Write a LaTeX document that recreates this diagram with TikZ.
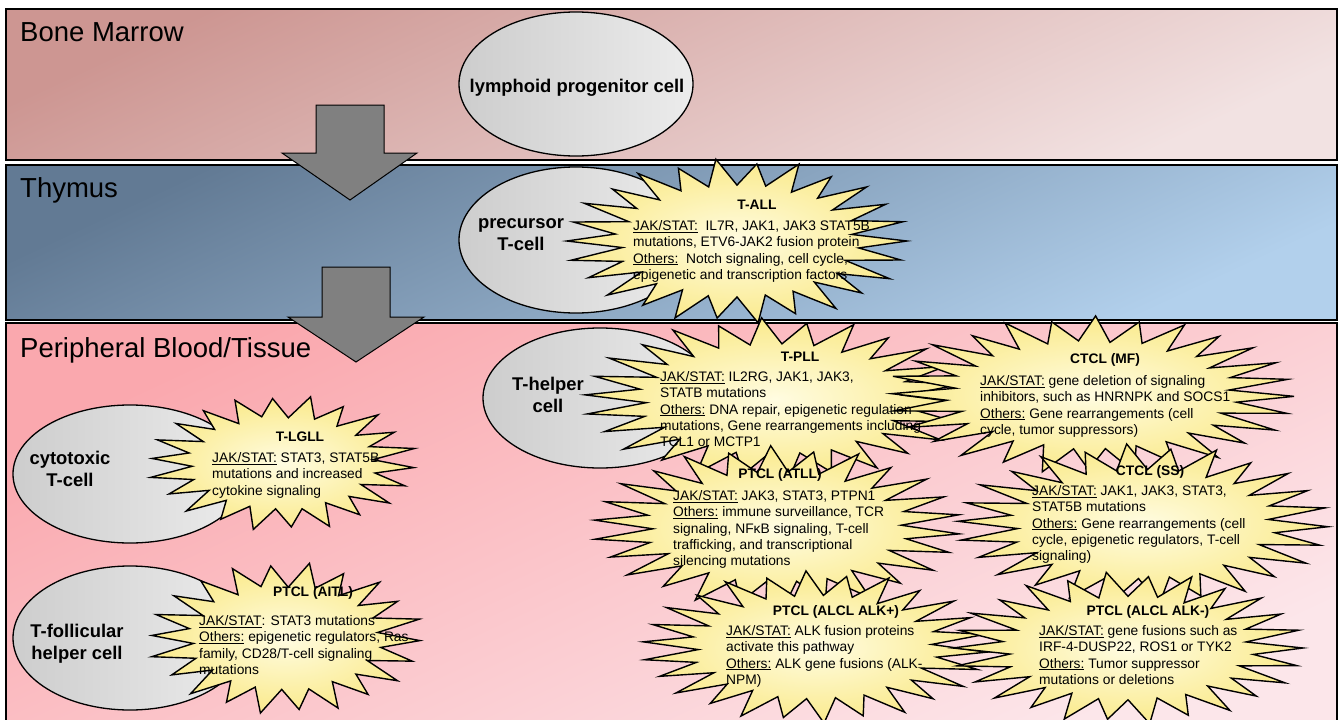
\documentclass[tikz,border=0pt]{standalone}
\usepackage{fontspec}
\setmainfont{Liberation Sans}
\usetikzlibrary{shapes.geometric}
\definecolor{bmA}{RGB}{205,150,146}
\definecolor{bmB}{RGB}{242,226,226}
\definecolor{thA}{RGB}{98,122,148}
\definecolor{thB}{RGB}{178,208,236}
\definecolor{pbA}{RGB}{250,168,174}
\definecolor{pbB}{RGB}{252,230,234}
\definecolor{burstin}{RGB}{255,252,225}
\definecolor{burstout}{RGB}{250,234,140}
\definecolor{arrowgray}{RGB}{128,128,128}
\definecolor{cellA}{RGB}{205,205,205}
\definecolor{cellB}{RGB}{236,236,236}
\tikzset{
  band/.style={draw=black, line width=1.3pt},
  bandlabel/.style={anchor=west, inner sep=0pt, font=\fontsize{27.5}{30}\selectfont},
  bigarrow/.style={draw=black, line width=1pt, fill=arrowgray, line join=miter},
  cell/.style={ellipse, draw=black, line width=1.3pt, left color=cellA, right color=cellB, inner sep=0pt},
  celllabel/.style={align=center, inner sep=0pt, font=\fontsize{18.4}{22}\selectfont\bfseries},
  burst/.style={draw=black, line width=1.4pt, line join=miter, inner color=burstin, outer color=burstout},
  bursttitle/.style={inner sep=0pt, font=\fontsize{13.8}{16.3}\selectfont\bfseries},
  burstbody/.style={anchor=north west, align=left, inner sep=0pt, font=\fontsize{13.8}{16.4}\selectfont},
}
% cx cy rx ry n k phase
\newcommand\burstshape[7]{%
  \pgfmathtruncatemacro\bN{2*#5-1}%
  \draw[burst] ({#1+#3*cos(#7)},{#2+#4*sin(#7)})
    \foreach \i in {1,...,\bN}{
      -- ({#1+#3*(1-(1-#6)*mod(\i,2))*(1+0.03*sin(\i*97))*cos(#7+\i*180/#5)},
         {#2+#4*(1-(1-#6)*mod(\i,2))*(1+0.03*sin(\i*97))*sin(#7+\i*180/#5)})
    } -- cycle;%
}
\newcommand\ul[1]{\underline{#1}}
\begin{document}
\begin{tikzpicture}[x=1pt, y=-1pt]
\useasboundingbox (0,0) rectangle (1344,720);
\fill[white] (0,0) rectangle (1344,720);
% bands
\draw[band, top color=bmA, bottom color=bmB, shading angle=25] (6,9) rectangle (1337,160);
\draw[band, top color=thA, bottom color=thB, shading angle=25] (6,165) rectangle (1337,320);
\draw[band, top color=pbA, bottom color=pbB, shading angle=25] (6,323) rectangle (1337,728);
\node[bandlabel] (bm) at (20,32) {Bone Marrow};
\node[bandlabel] (thy) at (20,190) {Thymus};
\node[bandlabel] (pbt) at (20,350) {Peripheral Blood/Tissue};
% arrows
\draw[bigarrow] (316,105) -- (384,105) -- (384,153) -- (417,153) -- (350,200) -- (282,153) -- (316,153) -- cycle;
\draw[bigarrow] (322,267) -- (390,267) -- (390,317) -- (424,317) -- (356,362) -- (288,317) -- (322,317) -- cycle;
% cells
\node[cell, minimum width=234pt, minimum height=144pt] (lpc) at (576,84) {};
\node[celllabel] (lpcL) at (577,88) {lymphoid progenitor cell};
\node[cell, minimum width=234pt, minimum height=146pt] (ptc) at (576,240) {};
\node[celllabel] (ptcL) at (521,235) {precursor\\T-cell};
\node[cell, minimum width=234pt, minimum height=140pt] (thc) at (600,398) {};
\node[celllabel] (thcL) at (548,395) {T-helper\\cell};
\node[cell, minimum width=234pt, minimum height=138pt] (ctc) at (130,474) {};
\node[celllabel] (ctcL) at (70,469) {cytotoxic\\T-cell};
\node[cell, minimum width=234pt, minimum height=144pt] (tfh) at (130,638) {};
\node[celllabel] (tfhL) at (77,644) {T-follicular\\helper cell};
% bursts
\burstshape{737}{241}{170}{80}{26}{0.7}{0}
\burstshape{282}{463}{132}{66}{22}{0.7}{4}
\burstshape{285}{638}{135}{74}{22}{0.7}{2}
\burstshape{775}{399}{190}{79}{26}{0.7}{3}
\burstshape{1092}{395}{202}{77}{28}{0.7}{1}
\burstshape{777}{527}{183}{79}{26}{0.7}{5}
\burstshape{1143}{524}{185}{78}{26}{0.7}{2}
\burstshape{815}{647}{172}{74}{26}{0.7}{4}
\burstshape{1128}{648}{175}{74}{26}{0.7}{0}
% texts
\node[bursttitle] (tallT) at (757,205) {T-ALL};
\node[burstbody] (tallB) at (633,220) {\ul{JAK/STAT:}\ \ IL7R, JAK1, JAK3 STAT5B\\mutations, ETV6-JAK2 fusion protein\\\ul{Others:}\ \ Notch signaling, cell cycle,\\epigenetic and transcription factors};
\node[bursttitle] (tlglT) at (300,437) {T-LGLL};
\node[burstbody] (tlglB) at (212,452) {\ul{JAK/STAT:} STAT3, STAT5B\\mutations and increased\\cytokine signaling};
\node[bursttitle] (aitlT) at (313,593) {PTCL (AITL)};
\node[burstbody] (aitlB) at (199,615) {\ul{JAK/STAT}: STAT3 mutations\\\ul{Others:} epigenetic regulators, Ras\\family, CD28/T-cell signaling\\mutations};
\node[bursttitle] (tpllT) at (800,357) {T-PLL};
\node[burstbody] (tpllB) at (660,371) {\ul{JAK/STAT:} IL2RG, JAK1, JAK3,\\STATB mutations\\\ul{Others:} DNA repair, epigenetic regulation\\mutations, Gene rearrangements including\\TCL1 or MCTP1};
\node[bursttitle] (mfT) at (1105,360) {CTCL (MF)};
\node[burstbody] (mfB) at (980,375) {\ul{JAK/STAT:} gene deletion of signaling\\inhibitors, such as HNRNPK and SOCS1\\\ul{Others:} Gene rearrangements (cell\\cycle, tumor suppressors)};
\node[bursttitle] (atllT) at (780,475) {PTCL (ATLL)};
\node[burstbody] (atllB) at (673,490) {\ul{JAK/STAT:} JAK3, STAT3, PTPN1\\\ul{Others:} immune surveillance, TCR\\signaling, NFκB signaling, T-cell\\trafficking, and transcriptional\\silencing mutations};
\node[bursttitle] (ssT) at (1150,472) {CTCL (SS)};
\node[burstbody] (ssB) at (1032,485) {\ul{JAK/STAT:} JAK1, JAK3, STAT3,\\STAT5B mutations\\\ul{Others:} Gene rearrangements (cell\\cycle, epigenetic regulators, T-cell\\signaling)};
\node[bursttitle] (alkpT) at (836,612) {PTCL (ALCL ALK+)};
\node[burstbody] (alkpB) at (726,625) {\ul{JAK/STAT:} ALK fusion proteins\\activate this pathway\\\ul{Others:} ALK gene fusions (ALK-\\NPM)};
\node[bursttitle] (alkmT) at (1148,612) {PTCL (ALCL ALK-)};
\node[burstbody] (alkmB) at (1039,625) {\ul{JAK/STAT:} gene fusions such as\\IRF-4-DUSP22, ROS1 or TYK2\\\ul{Others:} Tumor suppressor\\mutations or deletions};
\end{tikzpicture}
\end{document}
